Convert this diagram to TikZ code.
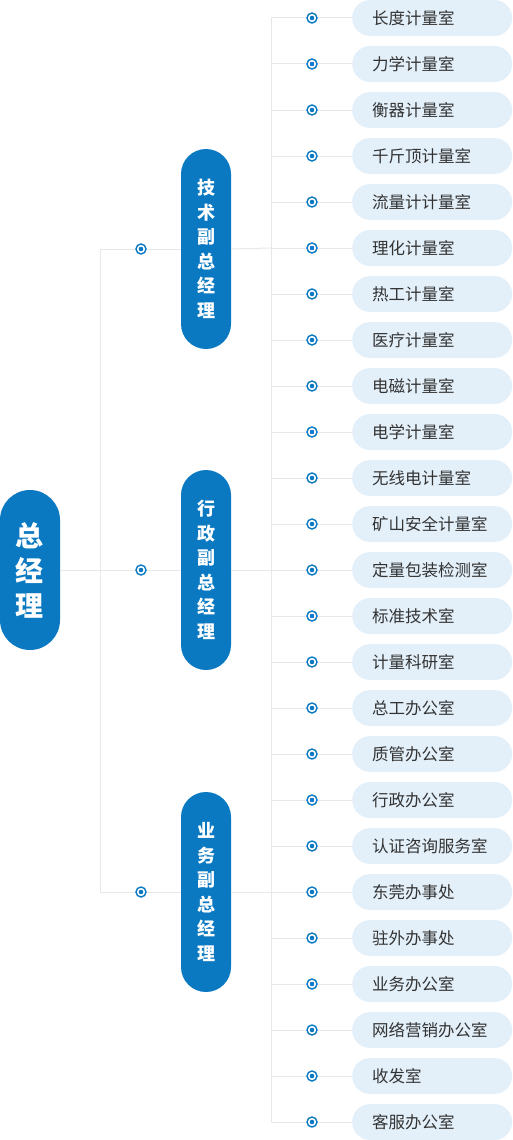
\documentclass[tikz,border=0pt]{standalone}
\usepackage{fontspec}
\usetikzlibrary{calc}
\newfontfamily\cjk{Noto Sans CJK SC}
\definecolor{mainblue}{RGB}{10,121,193}
\definecolor{leafbg}{RGB}{227,240,250}
\definecolor{linegray}{RGB}{232,232,232}
\definecolor{leaftext}{RGB}{51,51,51}
\begin{document}
\begin{tikzpicture}[x=1pt,y=-1pt,
  conn/.style={draw=linegray,line width=1pt},
  rootbox/.style={fill=mainblue,rounded corners=30pt,minimum width=60pt,minimum height=160pt,inner sep=0pt,text=white,align=center,font=\cjk\bfseries\fontsize{28}{35}\selectfont},
  vicebox/.style={fill=mainblue,rounded corners=25pt,minimum width=50pt,minimum height=200pt,inner sep=0pt,text=white,align=center,font=\cjk\bfseries\fontsize{18}{24.5}\selectfont},
  leafbox/.style={fill=leafbg,rounded corners=18pt,minimum height=36pt,inner xsep=20pt,inner ysep=0pt,text width=120pt,align=left,anchor=west,text=leaftext,font=\cjk\fontsize{16.5}{18}\selectfont},
  dotnode/.style={circle,draw=mainblue,line width=1.4pt,fill=white,minimum size=10pt,inner sep=0pt,
    path picture={\fill[mainblue] (path picture bounding box.center) circle (2.3pt);}}
]
\useasboundingbox (0,0) rectangle (512,1140);
\fill[white] (0,0) rectangle (512,1140);

% trunk coordinates
\coordinate (r0) at (100,570);
\coordinate (j1) at (100,249);
\coordinate (j2) at (100,570);
\coordinate (j3) at (100,892);
\coordinate (t1) at (271,18);
\coordinate (t2) at (271,1122);

% root and vice nodes
\node[rootbox] (root) at (30,570) {总\\经\\理};
\node[vicebox] (v1) at (206,249) {技\\术\\副\\总\\经\\理};
\node[vicebox] (v2) at (206,570) {行\\政\\副\\总\\经\\理};
\node[vicebox] (v3) at (206,892) {业\\务\\副\\总\\经\\理};

% leaves
\foreach \t [count=\i from 0] in {长度计量室,力学计量室,衡器计量室,千斤顶计量室,流量计计量室,理化计量室,热工计量室,医疗计量室,电磁计量室,电学计量室,无线电计量室,矿山安全计量室,定量包装检测室,标准技术室,计量科研室,总工办公室,质管办公室,行政办公室,认证咨询服务室,东莞办事处,驻外办事处,业务办公室,网络营销办公室,收发室,客服办公室}{
  \pgfmathsetmacro{\yy}{18+46*\i}
  \coordinate (b\i) at (271,\yy);
  \node[leafbox] (l\i) at (352,\yy) {\t};
}

% connectors
\draw[conn] (root.east) -- (r0);
\draw[conn] (j1) -- (j3);
\draw[conn] (j1) -- (v1.west);
\draw[conn] (j2) -- (v2.west);
\draw[conn] (j3) -- (v3.west);
\draw[conn] (t1) -- (t2);
\draw[conn] (v1.east) -- (b5);
\draw[conn] (v2.east) -- (b12);
\draw[conn] (v3.east) -- (b19);
\foreach \i in {0,...,24}{
  \draw[conn] (b\i) -- (l\i.west);
  \node[dotnode] (d\i) at ($(b\i)+(41,0)$) {};
}
\node[dotnode] (e1) at (141,249) {};
\node[dotnode] (e2) at (141,570) {};
\node[dotnode] (e3) at (141,892) {};
\end{tikzpicture}
\end{document}
